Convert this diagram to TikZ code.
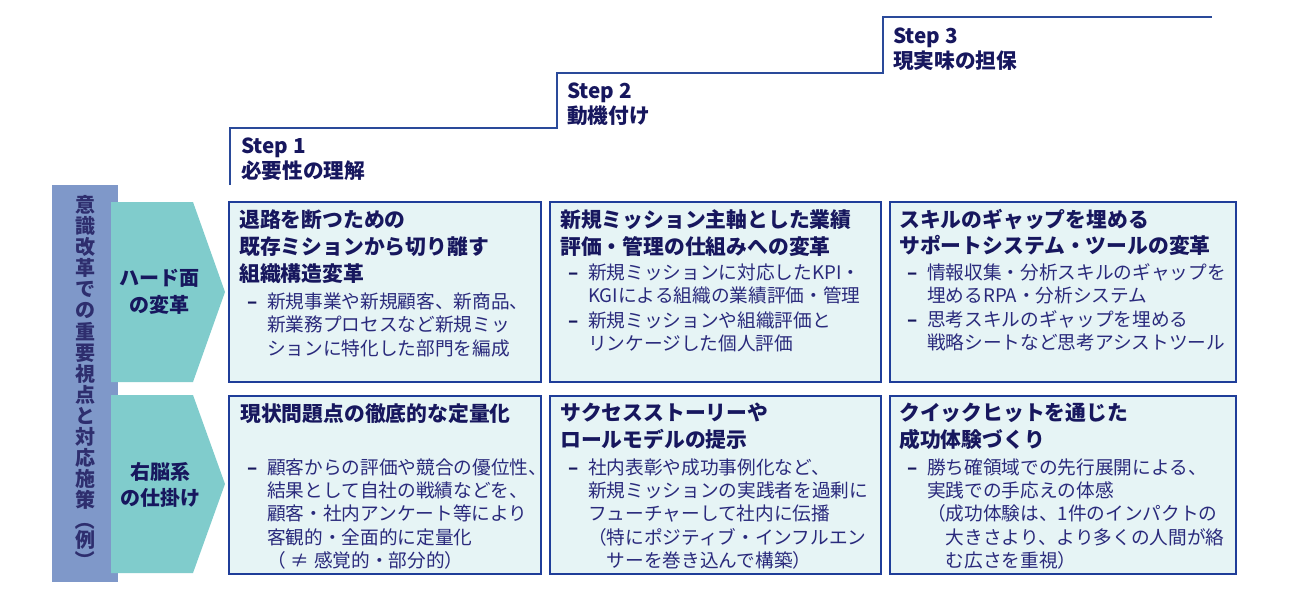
\documentclass[tikz,border=0pt]{standalone}
\usepackage{fontspec}
\setmainfont{Noto Sans CJK JP}
\usepackage{graphicx}
\definecolor{boxblue}{HTML}{1F3D99}
\definecolor{boxfill}{HTML}{E6F4F5}
\definecolor{titlecol}{HTML}{17175E}
\definecolor{bodycol}{HTML}{2A2A7C}
\definecolor{barcol}{HTML}{7F98C9}
\definecolor{chevcol}{HTML}{80CCCC}
\definecolor{stepcol}{HTML}{2A4A9A}
\newcommand\tlines[6]{%
  \foreach \t [count=\i from 0] in {#6} {\node[#5] (#1-\i) at (#2,{#3+\i*#4}) {\t};}}
\begin{document}
\begin{tikzpicture}[x=0.75pt,y=-0.75pt,
  box/.style={draw=boxblue,fill=boxfill,line width=1.1pt},
  ttl/.style={anchor=west,inner sep=0pt,font=\fontsize{15.6}{18}\selectfont\bfseries,text=titlecol,text height=13.73pt,text depth=1.87pt},
  bdy/.style={anchor=west,inner sep=0pt,font=\fontsize{14}{17}\selectfont,text=bodycol,text height=12.32pt,text depth=1.68pt},
  dsh/.style={bdy,font=\fontsize{14}{17}\selectfont\bfseries,text=titlecol},
  stp/.style={anchor=west,inner sep=0pt,font=\fontsize{15.5}{18}\selectfont\bfseries,text=titlecol,text height=13.6pt,text depth=1.9pt},
  chv/.style={inner sep=0pt,font=\fontsize{15}{18}\selectfont\bfseries,text=titlecol,text height=13.2pt,text depth=1.8pt},
  vrt/.style={inner sep=0pt,font=\fontsize{15}{18}\selectfont\bfseries,text=titlecol!90!white,text height=13.2pt,text depth=1.8pt}]
\fill[white] (0,0) rectangle (1300,600);
\useasboundingbox (0,0) rectangle (1300,600);
% staircase
\draw[stepcol,line width=1.1pt] (230,185) -- (230,128) -- (557,128) -- (557,73) -- (883,73) -- (883,17) -- (1212,17);
\tlines{s1}{241}{146}{24.5}{stp}{Step 1,必要性の理解}
\tlines{s2}{567}{91}{24.5}{stp}{Step 2,動機付け}
\tlines{s3}{893}{36}{24.5}{stp}{Step 3,現実味の担保}
% left bar
\fill[barcol] (52,185) rectangle (118,582);
\foreach \c [count=\i from 0] in {意,識,改,革,で,の,重,要,視,点,と,対,応,施,策}
  \node[vrt] (v-\i) at (85,{205+\i*21.07}) {\c};
\node[vrt] (vrei) at (85,540) {例};
\node[vrt,rotate=-90] (vpar) at (85,540) {（\phantom{例}）};
% chevrons
\fill[chevcol] (111,202) -- (193,202) -- (225,292) -- (193,382) -- (111,382) -- cycle;
\fill[chevcol] (111,395) -- (193,395) -- (225,484) -- (193,573) -- (111,573) -- cycle;
\node[chv] (h1) at (159,278) {ハード面};
\node[chv] (h2) at (159,305) {の変革};
\node[chv] (r1) at (160,472) {右脳系};
\node[chv] (r2) at (160,498) {の仕掛け};
% boxes
\draw[box] (229,202) rectangle (541,382);
\draw[box] (550,202) rectangle (881,382);
\draw[box] (890,202) rectangle (1236,382);
\draw[box] (229,396) rectangle (541,574);
\draw[box] (550,396) rectangle (881,574);
\draw[box] (890,396) rectangle (1236,574);
% top row
\tlines{t1}{239}{220}{27}{ttl}{退路を断つための,既存ミションから切り離す,組織構造変革}
\node[dsh] (d11) at (247,301) {–};
\tlines{b1}{267}{301}{23.5}{bdy}{新規事業や新規顧客、新商品、,新業務プロセスなど新規ミッ,ションに特化した部門を編成}
\tlines{t2}{560}{220}{27}{ttl}{新規ミッション主軸とした業績,評価・管理の仕組みへの変革}
\node[dsh] (d21) at (568,272) {–};
\tlines{b2a}{588}{272}{23.7}{bdy}{新規ミッションに対応したKPI・,KGIによる組織の業績評価・管理}
\node[dsh] (d22) at (568,320) {–};
\tlines{b2b}{588}{320}{23.7}{bdy}{新規ミッションや組織評価と,リンケージした個人評価}
\tlines{t3}{899}{220}{26}{ttl}{スキルのギャップを埋める,サポートシステム・ツールの変革}
\node[dsh] (d31) at (907,272) {–};
\tlines{b3a}{927}{272}{23.5}{bdy}{情報収集・分析スキルのギャップを,埋めるRPA・分析システム}
\node[dsh] (d32) at (907,319) {–};
\tlines{b3b}{927}{319}{23.7}{bdy}{思考スキルのギャップを埋める,戦略シートなど思考アシストツール}
% bottom row
\tlines{t4}{240}{414}{27}{ttl}{現状問題点の徹底的な定量化}
\node[dsh] (d41) at (247,467) {–};
\tlines{b4}{267}{467}{23.3}{bdy}{顧客からの評価や競合の優位性、,結果として自社の戦績などを、,顧客・社内アンケート等により,客観的・全面的に定量化,（ ≠\hspace{4pt}感覚的・部分的）}
\tlines{t5}{560}{413}{27}{ttl}{サクセスストーリーや,ロールモデルの提示}
\node[dsh] (d51) at (568,467) {–};
\tlines{b5}{588}{467}{23.3}{bdy}{社内表彰や成功事例化など、,新規ミッションの実践者を過剰に,フューチャーして社内に伝播,（特にポジティブ・インフルエン,　サーを巻き込んで構築）}
\tlines{t6}{899}{413}{27}{ttl}{クイックヒットを通じた,成功体験づくり}
\node[dsh] (d61) at (907,467) {–};
\tlines{b6}{927}{467}{23.3}{bdy}{勝ち確領域での先行展開による、,実践での手応えの体感,（成功体験は、1件のインパクトの,　大きさより、より多くの人間が絡,　む広さを重視）}
\end{tikzpicture}
\end{document}
